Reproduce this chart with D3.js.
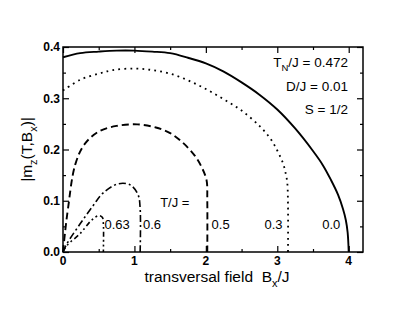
<!DOCTYPE html>
<html>
<head>
<meta charset="utf-8">
<script src="https://cdn.jsdelivr.net/npm/d3@7"></script>
<style>
  body { margin: 0; background: #fff; }
  svg { display: block; font-family: "Liberation Sans", Arial, sans-serif; }
</style>
</head>
<body>
<div class="panel"></div>
<script>
// Data: |m_z| against B_x/J for each temperature T/J

const temps = ["0.0", "0.3", "0.5", "0.6", "0.63"];

const bT00 = [0, 0.24, 0.5, 0.75, 1.0, 1.25, 1.5, 1.75, 2.0, 2.25, 2.5, 2.75, 3.0, 3.25, 3.5, 3.64, 3.75, 3.85, 3.92, 3.96, 3.985, 4.0];
const mT00 = [0.380, 0.388, 0.391, 0.393, 0.393, 0.391, 0.388, 0.379, 0.368, 0.352, 0.331, 0.307, 0.278, 0.241, 0.197, 0.169, 0.141, 0.112, 0.084, 0.062, 0.038, 0];

const bT03 = [0, 0.24, 0.5, 0.7, 1.0, 1.25, 1.5, 1.75, 2.0, 2.25, 2.5, 2.75, 2.9, 3.0, 3.08, 3.12, 3.14, 3.15, 3.15];
const mT03 = [0.315, 0.336, 0.348, 0.355, 0.358, 0.355, 0.348, 0.335, 0.318, 0.298, 0.276, 0.246, 0.222, 0.198, 0.173, 0.152, 0.135, 0.09, 0];

const bT05 = [0, 0.03, 0.07, 0.17, 0.3, 0.5, 0.75, 1.04, 1.3, 1.5, 1.68, 1.85, 1.95, 2.01, 2.02, 2.02];
const mT05 = [0, 0.04, 0.085, 0.17, 0.21, 0.235, 0.246, 0.249, 0.243, 0.232, 0.213, 0.187, 0.163, 0.14, 0.1, 0];

const bT06 = [0, 0.05, 0.24, 0.42, 0.56, 0.77, 0.94, 1.05, 1.08, 1.08];
const mT06 = [0, 0.015, 0.055, 0.09, 0.115, 0.133, 0.131, 0.112, 0.085, 0];

const bT063 = [0, 0.05, 0.24, 0.4, 0.5, 0.55, 0.565, 0.565];
const mT063 = [0, 0.012, 0.036, 0.062, 0.071, 0.068, 0.055, 0];

const curves = [
  { t: "0.0",  b: bT00,  m: mT00,  dash: null,                width: 1.9 },
  { t: "0.3",  b: bT03,  m: mT03,  dash: "1.8,4.2",           width: 1.8 },
  { t: "0.5",  b: bT05,  m: mT05,  dash: "7,4",               width: 1.9 },
  { t: "0.6",  b: bT06,  m: mT06,  dash: "7,3,2,3",           width: 1.6 },
  { t: "0.63", b: bT063, m: mT063, dash: "5,3,1.8,3,1.8,3",   width: 1.6 }
];

const xTicks = [0, 1, 2, 3, 4];
const yTicks = [0.0, 0.1, 0.2, 0.3, 0.4];

// label anchors (left edge, baseline) in data units
const labelAt = { "0.63": [0.58, 0.045], "0.6": [1.12, 0.045], "0.5": [2.08, 0.045], "0.3": [2.82, 0.045], "0.0": [3.63, 0.045] };

const params = {
  width: 409,
  height: 316,
  left: 63,
  right: 363,
  top: 47,
  bottom: 252
};

const svg = d3.select(".panel").append("svg")
  .attr("width", params.width)
  .attr("height", params.height);

const x = d3.scaleLinear().domain([0, 4.2]).range([params.left, params.right]);
const y = d3.scaleLinear().domain([0, 0.4]).range([params.bottom, params.top]);

const innerW = params.right - params.left;
const innerH = params.bottom - params.top;

// axes with inward ticks on all four sides
function axisPair(axisFn, scale, ticks, minor, transform, size) {
  svg.append("g").attr("transform", transform)
    .call(axisFn(scale).tickValues(minor).tickSize(size / 2).tickFormat(""));
  return svg.append("g").attr("transform", transform)
    .call(axisFn(scale).tickValues(ticks).tickSize(size));
}

const xMinor = [0.5, 1.5, 2.5, 3.5];
const yMinor = [0.05, 0.15, 0.25, 0.35];

axisPair(d3.axisTop, x, xTicks, xMinor, `translate(0,${params.bottom})`, 6);
axisPair(d3.axisBottom, x, xTicks, xMinor, `translate(0,${params.top})`, 6);
axisPair(d3.axisRight, y, yTicks, yMinor, `translate(${params.left},0)`, 6);
axisPair(d3.axisLeft, y, yTicks, yMinor, `translate(${params.right},0)`, 6);

svg.selectAll(".domain").remove();
svg.selectAll(".tick line").attr("stroke", "#000").attr("stroke-width", 1.2);
svg.selectAll(".tick text").remove();

// tick labels
svg.append("g").selectAll("text")
  .data(xTicks).enter().append("text")
  .attr("x", d => x(d))
  .attr("y", params.bottom + 13)
  .attr("text-anchor", "middle")
  .attr("font-size", 12)
  .attr("font-weight", "bold")
  .text(d => d);

svg.append("g").selectAll("text")
  .data(yTicks).enter().append("text")
  .attr("x", params.left - 3)
  .attr("y", d => y(d))
  .attr("dy", "0.36em")
  .attr("text-anchor", "end")
  .attr("font-size", 12)
  .attr("font-weight", "bold")
  .text(d => d.toFixed(1));

// frame
svg.append("rect")
  .attr("x", params.left).attr("y", params.top)
  .attr("width", innerW).attr("height", innerH)
  .attr("fill", "none").attr("stroke", "#000").attr("stroke-width", 1.5);

// curves
const line = d3.line()
  .x(d => x(d[0]))
  .y(d => y(d[1]))
  .curve(d3.curveCatmullRom.alpha(0.5));

svg.append("g").selectAll("path")
  .data(curves).enter().append("path")
  .attr("d", c => line(c.b.map((b, i) => [b, c.m[i]])))
  .attr("fill", "none")
  .attr("stroke", "#000")
  .attr("stroke-width", c => c.width)
  .attr("stroke-dasharray", c => c.dash);

// temperature labels
svg.append("g").selectAll("text")
  .data(temps).enter().append("text")
  .attr("x", t => x(labelAt[t][0]))
  .attr("y", t => y(labelAt[t][1]))
  .attr("font-size", 13)
  .text(t => t);

svg.append("text")
  .attr("x", x(1.36)).attr("y", y(0.088))
  .attr("font-size", 13)
  .text("T/J =");

// parameter block
const block = svg.append("g").attr("font-size", 13.5).attr("text-anchor", "end");
const tn = block.append("text").attr("x", 348).attr("y", 67);
tn.append("tspan").text("T");
tn.append("tspan").attr("font-size", 9.5).attr("dy", 4).text("N");
tn.append("tspan").attr("dy", -4).text("/J = 0.472");
block.append("text").attr("x", 348).attr("y", 91).text("D/J = 0.01");
block.append("text").attr("x", 348).attr("y", 114).text("S = 1/2");

// axis titles
const xt = svg.append("text")
  .attr("x", (params.left + params.right) / 2 + 4)
  .attr("y", 282)
  .attr("text-anchor", "middle")
  .attr("font-size", 15.5)
  .attr("xml:space", "preserve");
xt.append("tspan").text("transversal field  B");
xt.append("tspan").attr("font-size", 11).attr("dy", 5).text("x");
xt.append("tspan").attr("dy", -5).text("/J");

const yt = svg.append("text")
  .attr("transform", `translate(32,${(params.top + params.bottom) / 2}) rotate(-90)`)
  .attr("text-anchor", "middle")
  .attr("font-size", 15.5);
yt.append("tspan").text("|m");
yt.append("tspan").attr("font-size", 11).attr("dy", 5).text("z");
yt.append("tspan").attr("dy", -5).text("(T,B");
yt.append("tspan").attr("font-size", 11).attr("dy", 5).text("x");
yt.append("tspan").attr("dy", -5).text(")|");
</script>
</body>
</html>
